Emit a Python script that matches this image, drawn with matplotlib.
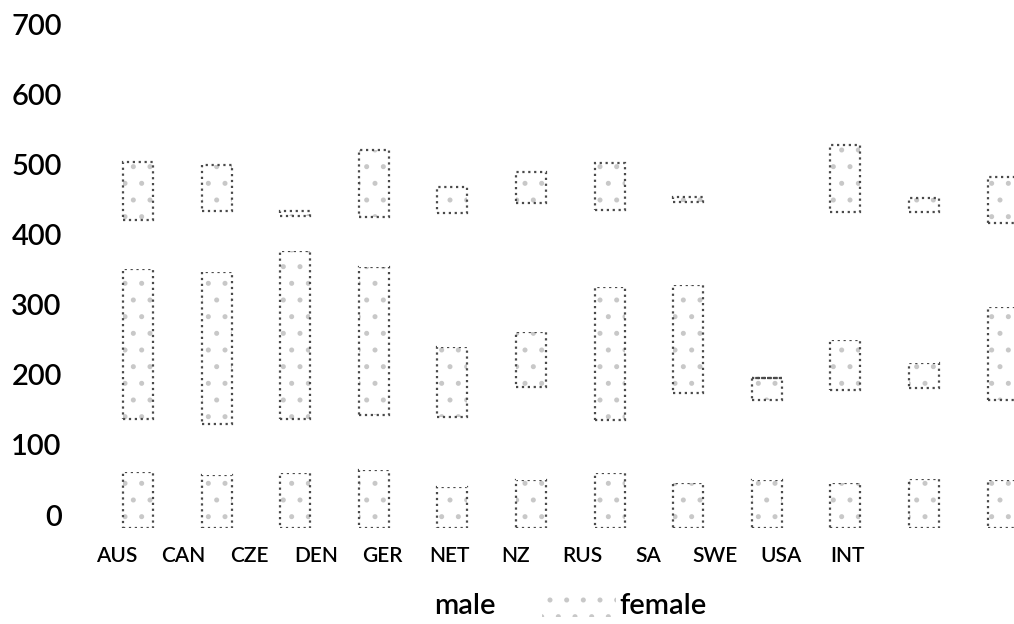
import numpy as np
import matplotlib.pyplot as plt
from matplotlib.patches import Patch
from matplotlib.transforms import ScaledTranslation

plt.rcParams['font.family'] = ['Lato', 'DejaVu Sans']
plt.rcParams['font.weight'] = 'semibold'
plt.rcParams['hatch.linewidth'] = 1.2

# countries on the x axis
countries = ['AUS', 'CAN', 'CZE', 'DEN', 'GER', 'NET', 'NZ', 'RUS', 'SA', 'SWE', 'USA', 'INT']

# stacked segments, bottom to top (female / male alternate)
female_low = [80, 75, 78, 83, 59, 69, 78, 64, 69, 64, 70, 69]
male_low = [75, 73, 77, 79, 100, 132, 76, 129, 114, 133, 130, 114]
female_mid = [215, 217, 240, 211, 100, 79, 190, 154, 31, 72, 36, 133]
male_high = [70, 87, 50, 71, 191, 184, 110, 119, 0, 182, 215, 120]
female_high = [83, 66, 7, 96, 37, 45, 67, 6, 0, 96, 20, 65]

yticks = [0, 100, 200, 300, 400, 500, 600, 700]

segments = [('female', female_low), ('male', male_low), ('female', female_mid),
            ('male', male_high), ('female', female_high)]

fig = plt.figure(figsize=(10.14, 6.24), dpi=100)
ax = fig.add_axes([70 / 1014, 96 / 624, 944 / 1014, 528 / 624])

x = np.arange(len(countries))
width = 0.38
bottom = np.zeros(len(countries))
for sex, vals in segments:
    vals = np.array(vals, dtype=float)
    if sex == 'female':
        # faint dotted fill
        ax.bar(x, vals, width, bottom=bottom, color='white', edgecolor='#c8c8c8',
               linewidth=0, hatch='.')
        # dotted outline
        ax.bar(x, vals, width, bottom=bottom, fill=False, edgecolor='#4a4a4a',
               linewidth=1.6, linestyle=':')
    else:
        ax.bar(x, vals, width, bottom=bottom, color='white', linewidth=0)
    bottom += vals

ax.set_xlim(-0.865, 11.145)
ax.set_ylim(0, 754)

# the tick labels sit a bit left of the bars in the original
label_pos = -0.267 + 0.845 * x
ax.set_xticks(label_pos)
ax.set_xticklabels(countries, fontsize=15)
ax.set_yticks(yticks)
ax.set_yticklabels([str(v) for v in yticks], fontsize=21)
ax.tick_params(axis='both', length=0)
ax.tick_params(axis='x', pad=13)
ax.tick_params(axis='y', pad=6)

offset = ScaledTranslation(0, 13 / 100, fig.dpi_scale_trans)
for lab in ax.get_yticklabels():
    lab.set_transform(lab.get_transform() + offset)

for s in ax.spines.values():
    s.set_visible(False)

handles = [Patch(facecolor='white', edgecolor='white', label='male'),
           Patch(facecolor='white', edgecolor='#c8c8c8', hatch='.', linewidth=0, label='female')]
fig.legend(handles=handles, loc='center', bbox_to_anchor=(0.524, 0.03), ncol=2,
           frameon=False, fontsize=21, handlelength=2.55, handleheight=1.0,
           handletextpad=0.1, columnspacing=1.6)

plt.savefig('out.png', dpi=100)
